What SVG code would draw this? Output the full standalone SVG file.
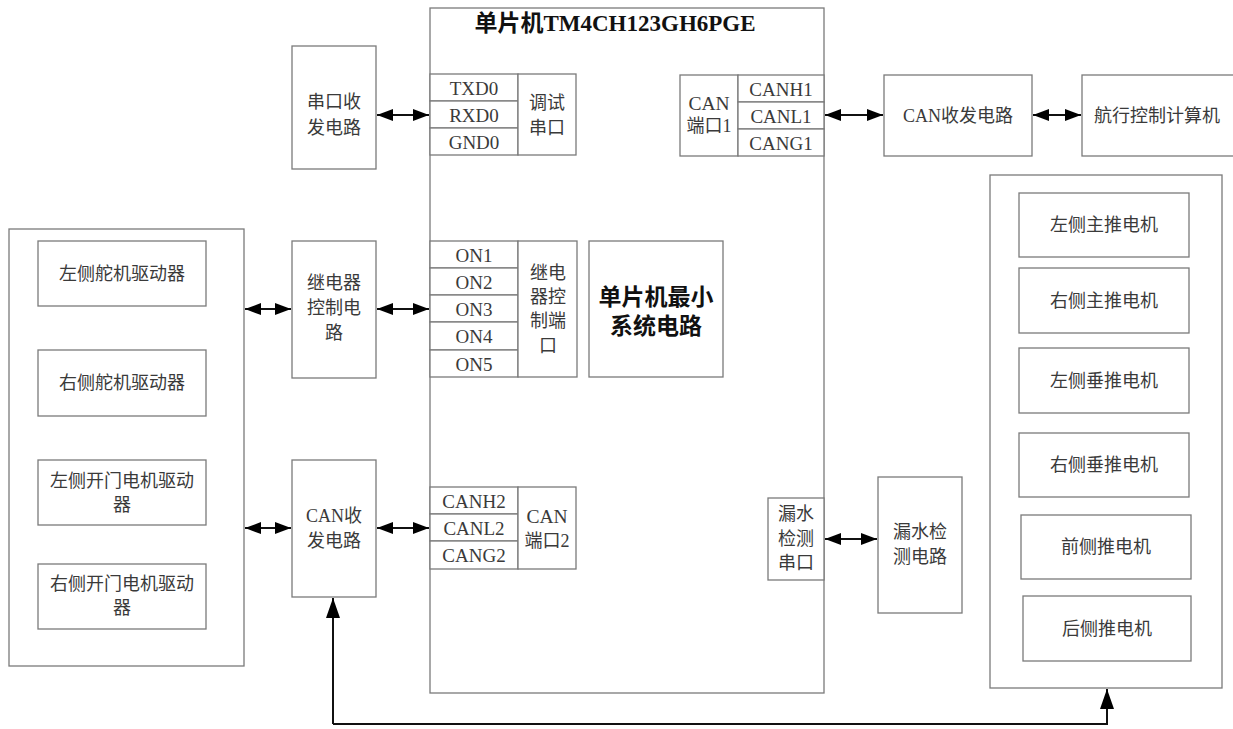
<svg xmlns="http://www.w3.org/2000/svg" width="1233" height="729" viewBox="0 0 1233 729">
<style>
.b{fill:#fff;stroke:#7a7a7a;stroke-width:1.3}
.t{font-family:"Liberation Serif","Noto Sans CJK SC",serif;font-size:18px;fill:#3a3a3a;text-anchor:middle;dominant-baseline:central}
.s{font-size:19px}
.l{font-size:19.5px}
.bd{font-weight:bold;fill:#111}
.c{stroke:#111;stroke-width:2;fill:none}
</style>
<defs>
<marker id="ah" markerUnits="userSpaceOnUse" markerWidth="16" markerHeight="12" refX="16" refY="6" orient="auto-start-reverse"><path d="M0,0 L16,6 L0,12 z" fill="#000"/></marker>
<marker id="au" markerUnits="userSpaceOnUse" markerWidth="20" markerHeight="14" refX="20" refY="7" orient="auto"><path d="M0,0 L20,7 L0,14 z" fill="#000"/></marker>
</defs>
<rect width="1233" height="729" fill="#fff"/>

<g id="mcu">
<rect class="b" x="430" y="8" width="394" height="685"/>
<text class="t bd" x="615" y="23" style="font-size:23px">单片机TM4CH123GH6PGE</text>
</g>

<g id="uart-circuit">
<rect class="b" x="292" y="46" width="84" height="123"/>
<text class="t" x="334" y="102">串口收</text>
<text class="t" x="334" y="128">发电路</text>
</g>

<g id="debug-port">
<rect class="b" x="430" y="74" width="88" height="27"/>
<rect class="b" x="430" y="101" width="88" height="27"/>
<rect class="b" x="430" y="128" width="88" height="27"/>
<rect class="b" x="518" y="74" width="58" height="81"/>
<text class="t s" x="474" y="88">TXD0</text>
<text class="t s" x="474" y="115">RXD0</text>
<text class="t s" x="474" y="142">GND0</text>
<text class="t" x="547" y="103">调试</text>
<text class="t" x="547" y="128">串口</text>
</g>

<g id="can-port1">
<rect class="b" x="680" y="75" width="58" height="81"/>
<rect class="b" x="738" y="75" width="86" height="27"/>
<rect class="b" x="738" y="102" width="86" height="27"/>
<rect class="b" x="738" y="129" width="86" height="27"/>
<text class="t l" x="709" y="103">CAN</text>
<text class="t" x="709" y="126">端口1</text>
<text class="t s" x="781" y="89">CANH1</text>
<text class="t s" x="781" y="116">CANL1</text>
<text class="t s" x="781" y="143">CANG1</text>
</g>

<g id="can-circuit1">
<rect class="b" x="884" y="75" width="148" height="81"/>
<text class="t" x="958" y="116">CAN收发电路</text>
</g>

<g id="nav-computer">
<rect class="b" x="1082" y="75" width="160" height="81"/>
<text class="t" x="1157" y="116">航行控制计算机</text>
</g>

<g id="left-group">
<rect class="b" x="9" y="229" width="235" height="437"/>
<rect class="b" x="38" y="241" width="168" height="65"/>
<text class="t" x="122" y="274">左侧舵机驱动器</text>
<rect class="b" x="38" y="350" width="168" height="66"/>
<text class="t" x="122" y="383">右侧舵机驱动器</text>
<rect class="b" x="38" y="460" width="168" height="65"/>
<text class="t" x="122" y="481">左侧开门电机驱动</text>
<text class="t" x="122" y="505">器</text>
<rect class="b" x="38" y="564" width="168" height="65"/>
<text class="t" x="122" y="584">右侧开门电机驱动</text>
<text class="t" x="122" y="608">器</text>
</g>

<g id="relay-circuit">
<rect class="b" x="292" y="241" width="84" height="137"/>
<text class="t" x="334" y="283">继电器</text>
<text class="t" x="334" y="308">控制电</text>
<text class="t" x="334" y="333">路</text>
</g>

<g id="relay-port">
<rect class="b" x="430" y="241" width="88" height="27"/>
<rect class="b" x="430" y="268" width="88" height="27"/>
<rect class="b" x="430" y="295" width="88" height="27"/>
<rect class="b" x="430" y="322" width="88" height="28"/>
<rect class="b" x="430" y="350" width="88" height="27"/>
<rect class="b" x="518" y="241" width="59" height="136"/>
<text class="t s" x="474" y="255">ON1</text>
<text class="t s" x="474" y="282">ON2</text>
<text class="t s" x="474" y="309">ON3</text>
<text class="t s" x="474" y="336">ON4</text>
<text class="t s" x="474" y="364">ON5</text>
<text class="t" x="548" y="273">继电</text>
<text class="t" x="548" y="297">器控</text>
<text class="t" x="548" y="321">制端</text>
<text class="t" x="548" y="346">口</text>
</g>

<g id="mcu-min">
<rect class="b" x="589" y="241" width="134" height="136"/>
<text class="t bd" x="656" y="297" style="font-size:23px">单片机最小</text>
<text class="t bd" x="656" y="326" style="font-size:23px">系统电路</text>
</g>

<g id="can-circuit2">
<rect class="b" x="292" y="460" width="84" height="137"/>
<text class="t" x="334" y="516">CAN收</text>
<text class="t" x="334" y="541">发电路</text>
</g>

<g id="can-port2">
<rect class="b" x="430" y="487" width="88" height="27"/>
<rect class="b" x="430" y="514" width="88" height="27"/>
<rect class="b" x="430" y="541" width="88" height="28"/>
<rect class="b" x="518" y="487" width="58" height="82"/>
<text class="t s" x="474" y="501">CANH2</text>
<text class="t s" x="474" y="528">CANL2</text>
<text class="t s" x="474" y="555">CANG2</text>
<text class="t l" x="547" y="516">CAN</text>
<text class="t" x="547" y="541">端口2</text>
</g>

<g id="leak-port">
<rect class="b" x="768" y="498" width="56" height="82"/>
<text class="t" x="796" y="514">漏水</text>
<text class="t" x="796" y="539">检测</text>
<text class="t" x="796" y="563">串口</text>
</g>

<g id="leak-circuit">
<rect class="b" x="878" y="477" width="84" height="136"/>
<text class="t" x="920" y="532">漏水检</text>
<text class="t" x="920" y="557">测电路</text>
</g>

<g id="right-group">
<rect class="b" x="990" y="175" width="232" height="513"/>
<rect class="b" x="1019" y="193" width="170" height="64"/>
<text class="t" x="1104" y="225">左侧主推电机</text>
<rect class="b" x="1019" y="268" width="170" height="65"/>
<text class="t" x="1104" y="301">右侧主推电机</text>
<rect class="b" x="1019" y="348" width="170" height="65"/>
<text class="t" x="1104" y="381">左侧垂推电机</text>
<rect class="b" x="1019" y="433" width="170" height="64"/>
<text class="t" x="1104" y="465">右侧垂推电机</text>
<rect class="b" x="1021" y="515" width="170" height="64"/>
<text class="t" x="1106" y="547">前侧推电机</text>
<rect class="b" x="1023" y="596" width="168" height="65"/>
<text class="t" x="1107" y="629">后侧推电机</text>
</g>

<g id="connectors">
<line class="c" x1="377" y1="115" x2="429" y2="115" marker-start="url(#ah)" marker-end="url(#ah)"/>
<line class="c" x1="825" y1="115" x2="883" y2="115" marker-start="url(#ah)" marker-end="url(#ah)"/>
<line class="c" x1="1033" y1="115" x2="1081" y2="115" marker-start="url(#ah)" marker-end="url(#ah)"/>
<line class="c" x1="245" y1="309" x2="291" y2="309" marker-start="url(#ah)" marker-end="url(#ah)"/>
<line class="c" x1="377" y1="309" x2="429" y2="309" marker-start="url(#ah)" marker-end="url(#ah)"/>
<line class="c" x1="245" y1="528" x2="291" y2="528" marker-start="url(#ah)" marker-end="url(#ah)"/>
<line class="c" x1="377" y1="528" x2="429" y2="528" marker-start="url(#ah)" marker-end="url(#ah)"/>
<line class="c" x1="825" y1="539" x2="877" y2="539" marker-start="url(#ah)" marker-end="url(#ah)"/>
<polyline class="c" points="333,724 333,598" marker-end="url(#au)"/>
<polyline class="c" points="333,724 1107,724 1107,689" marker-end="url(#au)"/>
</g>
</svg>
